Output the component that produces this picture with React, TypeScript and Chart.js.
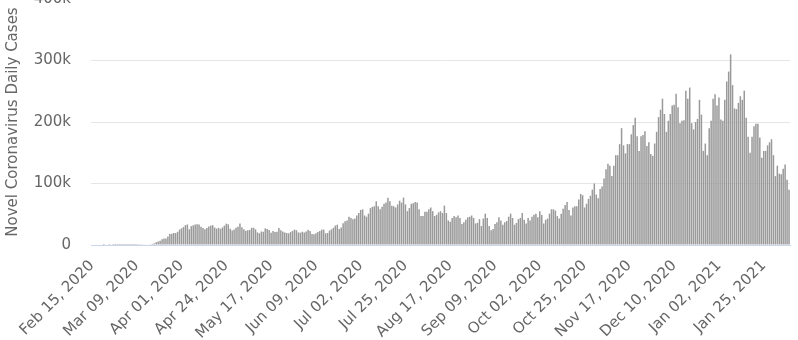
import { useEffect, useRef } from "react";
import { Chart, registerables } from "chart.js";

Chart.register(...registerables);

// Daily new cases, in thousands
const feb2020 = [0, 0, 0, 0, 0, 0, 0.002, 0, 0, 0.018, 0, 0.001, 0.003, 0.002, 0.009];
const mar2020 = [0.008, 0.025, 0.024, 0.033, 0.07, 0.064, 0.105, 0.116, 0.18, 0.29, 0.37, 0.46, 0.6, 0.72, 0.96, 1.1, 1.7, 2.7, 4.6, 5.6, 6.9, 9.3, 10.6, 10.5, 13.8, 17.8, 18.3, 19.5, 19.4, 21.4, 25.2];
const apr2020 = [27.1, 29.3, 32.3, 33.3, 25.6, 30.6, 32.3, 33.2, 33.8, 33.3, 29.6, 27.7, 25.8, 27.8, 30.1, 31.4, 32.3, 28.5, 26.7, 27.9, 26.4, 28.5, 31.4, 34.7, 33.6, 26.6, 23.7, 25.3, 28.0, 29.8];
const may2020 = [35.0, 29.0, 25.5, 23.0, 24.0, 24.5, 28.0, 28.0, 25.5, 20.5, 19.0, 22.0, 21.5, 27.0, 26.0, 24.4, 20.0, 22.7, 21.1, 21.7, 27.5, 23.9, 22.0, 20.4, 19.5, 19.0, 21.0, 22.8, 25.0, 24.0, 20.5];
const jun2020 = [20.0, 21.5, 20.4, 22.0, 25.0, 22.6, 18.0, 17.5, 19.0, 21.0, 22.8, 25.0, 25.0, 19.0, 19.5, 23.5, 25.5, 28.0, 31.6, 33.0, 26.0, 28.5, 35.2, 38.7, 39.8, 46.0, 44.0, 42.0, 43.0, 48.0];
const jul2020 = [52, 57, 58, 48, 46, 51, 60, 62, 63, 71, 63, 58, 62, 67, 69, 77, 71, 64, 63, 61, 66, 72, 69, 77, 66, 55, 60, 67, 68, 70, 69];
const aug2020 = [58, 47, 47, 54, 54, 58, 61, 55, 47, 49, 53, 55, 52, 64, 52, 40, 38, 44, 47, 45, 48, 44, 34, 37, 41, 45, 46, 48, 44, 35, 36];
const sep2020 = [42, 31, 43, 51, 44, 31, 24, 26, 34, 37, 45, 40, 33, 37, 39, 46, 51, 44, 33, 36, 42, 44, 52, 41, 35, 44, 40, 46, 49, 51];
const oct2020 = [45, 55, 49, 35, 41, 43, 51, 58, 58, 56, 47, 43, 51, 59, 65, 70, 57, 48, 61, 63, 63, 74, 83, 81, 61, 67, 75, 80, 90, 100, 82];
const nov2020 = [76, 91, 95, 108, 123, 132, 129, 112, 129, 146, 146, 164, 190, 162, 149, 164, 164, 180, 195, 207, 177, 153, 177, 179, 185, 161, 167, 148, 145, 165];
const dec2020 = [184, 208, 220, 238, 213, 184, 202, 213, 227, 228, 246, 224, 198, 202, 203, 251, 238, 256, 198, 188, 200, 205, 236, 212, 153, 165, 146, 190, 202, 238, 245];
const jan2021 = [227, 240, 204, 202, 236, 266, 282, 310, 260, 222, 221, 231, 242, 236, 251, 207, 176, 150, 176, 193, 197, 197, 175, 142, 153, 153, 162, 167, 172, 146, 112];
const feb2021 = [129, 116, 115, 124, 131, 106, 90];

const dailyCases = [
  ...feb2020, ...mar2020, ...apr2020, ...may2020, ...jun2020, ...jul2020,
  ...aug2020, ...sep2020, ...oct2020, ...nov2020, ...dec2020, ...jan2021, ...feb2021,
];

const MONTHS = ["Jan", "Feb", "Mar", "Apr", "May", "Jun", "Jul", "Aug", "Sep", "Oct", "Nov", "Dec"];
const START_DATE = Date.UTC(2020, 1, 15);

const categories = dailyCases.map((_, i) => {
  const d = new Date(START_DATE + i * 86400000);
  return `${MONTHS[d.getUTCMonth()]} ${String(d.getUTCDate()).padStart(2, "0")}, ${d.getUTCFullYear()}`;
});

const TICK_LABELS = [
  "Feb 15, 2020", "Mar 09, 2020", "Apr 01, 2020", "Apr 24, 2020", "May 17, 2020",
  "Jun 09, 2020", "Jul 02, 2020", "Jul 25, 2020", "Aug 17, 2020", "Sep 09, 2020",
  "Oct 02, 2020", "Oct 25, 2020", "Nov 17, 2020", "Dec 10, 2020", "Jan 02, 2021",
  "Jan 25, 2021",
];
const tickSet = new Set(TICK_LABELS);

const Y_MAX = 400;
const Y_STEP = 100;

const FONT = "'DejaVu Sans', sans-serif";

export default function App() {
  const ref = useRef<HTMLCanvasElement | null>(null);

  useEffect(() => {
    if (!ref.current) return;
    const chart = new Chart(ref.current, {
      type: "bar",
      data: {
        labels: categories,
        datasets: [
          {
            data: dailyCases,
            backgroundColor: "#9a9a9a",
            borderWidth: 0,
            barPercentage: 0.78,
            categoryPercentage: 1,
          },
        ],
      },
      options: {
        animation: false,
        responsive: true,
        maintainAspectRatio: false,
        layout: { padding: { top: 10, right: 8, bottom: 0, left: 0 } },
        plugins: { legend: { display: false }, tooltip: { enabled: false } },
        scales: {
          x: {
            grid: { display: false },
            border: { display: true, color: "#ccd6eb", width: 1 },
            afterFit: (scale: any) => {
              scale.height = 95;
            },
            ticks: {
              autoSkip: false,
              maxRotation: 45,
              minRotation: 45,
              padding: 4,
              color: "#666666",
              font: { family: FONT, size: 15 },
              callback: (_v: any, i: number) => (tickSet.has(categories[i]) ? categories[i] : null),
            },
          },
          y: {
            min: 0,
            max: Y_MAX,
            afterFit: (scale: any) => {
              scale.width = 91;
            },
            grid: { color: "#e6e6e6", drawTicks: false },
            border: { display: false },
            ticks: {
              stepSize: Y_STEP,
              padding: 20,
              color: "#666666",
              font: { family: FONT, size: 15 },
              callback: (v: any) => (v === 0 ? "0" : `${v}k`),
            },
            title: {
              display: true,
              text: "Novel Coronavirus Daily Cases",
              color: "#666666",
              font: { family: FONT, size: 15 },
              padding: { top: 4, bottom: 4 },
            },
          },
        },
      },
    });
    return () => chart.destroy();
  }, []);

  return (
    <div style={{ position: "absolute", left: 0, top: -30, width: 798, height: 370 }}>
      <canvas ref={ref} />
    </div>
  );
}
